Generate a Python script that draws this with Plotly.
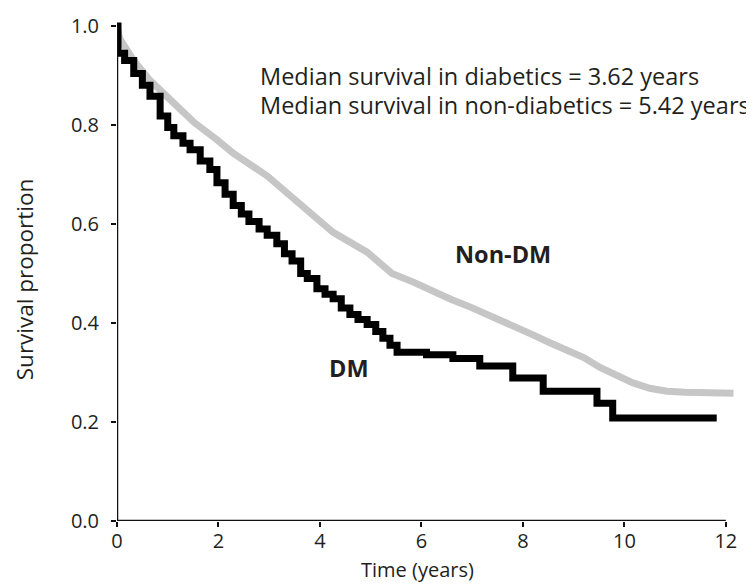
import plotly.graph_objects as go

# Diabetic (DM) Kaplan-Meier curve: time (years), survival proportion
dm_time = [0, 0.02, 0.15, 0.33, 0.5, 0.65, 0.85, 1.0, 1.12, 1.3, 1.44, 1.64, 1.83, 1.97,
           2.13, 2.29, 2.45, 2.6, 2.8, 2.96, 3.15, 3.3, 3.45, 3.62, 3.75, 3.94, 4.1, 4.26,
           4.42, 4.59, 4.75, 4.93, 5.1, 5.24, 5.38, 5.52, 6.1, 6.62, 7.15, 7.8, 8.4, 9.46,
           9.77, 11.82]
dm_surv = [1.0, 0.945, 0.93, 0.904, 0.88, 0.858, 0.818, 0.795, 0.778, 0.763, 0.75, 0.727, 0.71, 0.683,
           0.66, 0.637, 0.62, 0.605, 0.59, 0.577, 0.56, 0.54, 0.525, 0.50, 0.49, 0.469, 0.458, 0.449,
           0.43, 0.417, 0.407, 0.397, 0.383, 0.369, 0.355, 0.341, 0.336, 0.328, 0.313, 0.289, 0.262, 0.238,
           0.208, 0.208]

# Non-diabetic (Non-DM) curve
ndm_time = [0, 0.05, 0.33, 0.65, 1.12, 1.52, 1.97, 2.29, 2.96, 3.6, 4.26, 4.93, 5.2, 5.42,
            5.83, 6.23, 6.6, 6.9, 7.2, 7.55, 7.9, 8.2, 8.53, 8.87, 9.2, 9.52, 9.85, 10.17,
            10.5, 10.84, 11.2, 12.15]
ndm_surv = [1.0, 0.975, 0.93, 0.89, 0.844, 0.805, 0.77, 0.743, 0.697, 0.643, 0.583, 0.543, 0.52, 0.50,
            0.483, 0.463, 0.447, 0.435, 0.422, 0.407, 0.39, 0.376, 0.36, 0.346, 0.33, 0.31, 0.293, 0.279,
            0.268, 0.262, 0.26, 0.258]

x_ticks = [0, 2, 4, 6, 8, 10, 12]
y_ticks = [0.0, 0.2, 0.4, 0.6, 0.8, 1.0]
y_tick_labels = ["0.0", "0.2", "0.4", "0.6", "0.8", "1.0"]

FONT = "Open Sans"
TXT = "#231f20"

fig = go.Figure()
fig.add_trace(go.Scatter(x=ndm_time, y=ndm_surv, mode="lines", line=dict(color="#c6c6c6", width=7, shape="linear"),
                         name="Non-DM", showlegend=False))
fig.add_trace(go.Scatter(x=dm_time, y=dm_surv, mode="lines", line=dict(color="#000000", width=7, shape="hv"),
                         name="DM", showlegend=False))

# axis lines
fig.add_shape(type="line", xref="x", yref="y", x0=0, x1=12, y0=0, y1=0, line=dict(color="#111", width=2.5))
fig.add_shape(type="line", xref="x", yref="y", x0=0, x1=0, y0=0, y1=1.0, line=dict(color="#111", width=2.5))

ann = [
    dict(x=2.78, y=0.899, text="Median survival in diabetics = 3.62 years", xanchor="left", yanchor="middle",
         font=dict(size=23.5)),
    dict(x=2.78, y=0.841, text="Median survival in non-diabetics = 5.42 years", xanchor="left", yanchor="middle",
         font=dict(size=23.5)),
    dict(x=7.6, y=0.539, text="<b>Non-DM</b>", xanchor="center", yanchor="middle", font=dict(size=23.5)),
    dict(x=4.57, y=0.309, text="<b>DM</b>", xanchor="center", yanchor="middle", font=dict(size=23.5)),
]
for a in ann:
    a.update(xref="x", yref="y", showarrow=False)
    a["font"].update(family=FONT, color=TXT)
    fig.add_annotation(**a)

fig.add_annotation(xref="paper", yref="paper", x=0.485, y=-0.097, text="Time (years)", showarrow=False,
                   xanchor="center", yanchor="middle", font=dict(family=FONT, size=20, color=TXT))
fig.add_annotation(xref="paper", yref="paper", x=-0.150, y=0.479, text="Survival proportion", showarrow=False,
                   textangle=-90, xanchor="center", yanchor="middle", font=dict(family=FONT, size=22.5, color=TXT))

fig.update_layout(
    width=746, height=577,
    margin=dict(l=109, r=18, t=4, b=64),
    paper_bgcolor="white", plot_bgcolor="white",
    font=dict(family=FONT, color=TXT),
    xaxis=dict(range=[0, 12.2], tickvals=x_ticks, ticks="outside", ticklen=5, tickwidth=2, tickcolor="#111",
               showgrid=False, zeroline=False, showline=False, ticklabelstandoff=-3, ticklabeloverflow="allow",
               tickfont=dict(size=20, color=TXT)),
    yaxis=dict(range=[0, 1.02], tickvals=y_ticks, ticktext=y_tick_labels, ticks="outside", ticklen=5, tickwidth=2,
               tickcolor="#111", showgrid=False, zeroline=False, showline=False, ticklabelstandoff=8,
               ticklabeloverflow="allow", tickfont=dict(size=20, color=TXT)),
)

fig.write_html("out.html")
